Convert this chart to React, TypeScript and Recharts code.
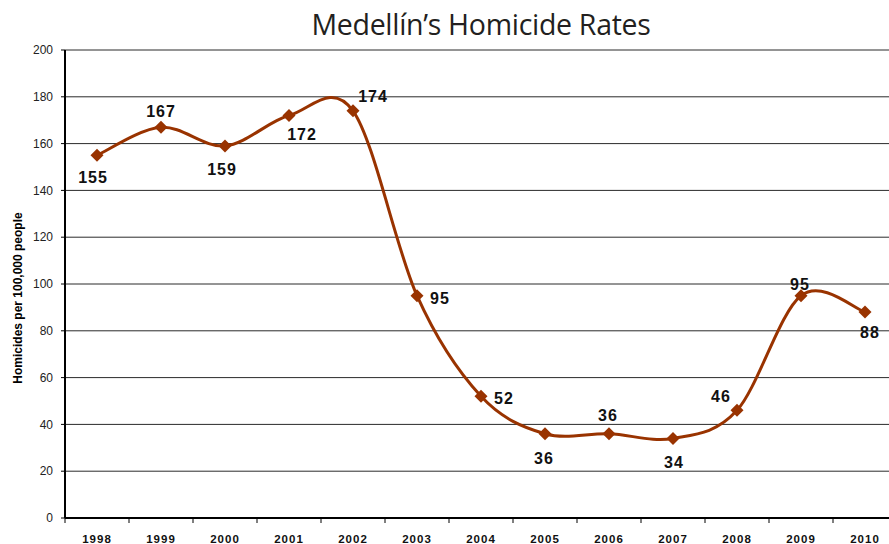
import React from "react";
import { LineChart, Line, XAxis, YAxis, CartesianGrid, LabelList, Label } from "recharts";

// Medellín homicide rate per 100,000 people
const years = ["1998", "1999", "2000", "2001", "2002", "2003", "2004", "2005", "2006", "2007", "2008", "2009", "2010"];
const rates = [155, 167, 159, 172, 174, 95, 52, 36, 36, 34, 46, 95, 88];
const yTicks = [0, 20, 40, 60, 80, 100, 120, 140, 160, 180, 200];

// where each value label sits relative to its point (dx, dy of label centre)
const labelOffsets: [number, number][] = [
  [-4, 22], [0, -16], [-3, 23], [13, 18], [20, -15], [23, 2], [23, 2],
  [-1, 24], [-1, -19], [1, 24], [-16, -14], [-1, -12], [5, 20],
];

const data = years.map((year, i) => ({ year, rate: rates[i] }));

const CHART_W = 900;
const CHART_H = 544;
const MARGIN = { top: 50, right: 3, bottom: 0, left: 0 };
const Y_AXIS_W = 65;
const HALF_BAND = (CHART_W - MARGIN.left - MARGIN.right - Y_AXIS_W) / years.length / 2;

const LINE_COLOR = "#993300";
const FONT = "'Liberation Sans', Arial, sans-serif";

// excel-style smoothing (catmull-rom through every point)
const smoothCurve = (context: any) => {
  let pts: [number, number][] = [];
  return {
    areaStart() {},
    areaEnd() {},
    lineStart() {
      pts = [];
    },
    point(x: number, y: number) {
      pts.push([+x, +y]);
    },
    lineEnd() {
      const n = pts.length;
      if (!n) return;
      context.moveTo(pts[0][0], pts[0][1]);
      for (let i = 0; i < n - 1; i++) {
        const p0 = pts[Math.max(i - 1, 0)];
        const p1 = pts[i];
        const p2 = pts[i + 1];
        const p3 = pts[Math.min(i + 2, n - 1)];
        context.bezierCurveTo(
          p1[0] + (p2[0] - p0[0]) / 6,
          p1[1] + (p2[1] - p0[1]) / 6,
          p2[0] - (p3[0] - p1[0]) / 6,
          p2[1] - (p3[1] - p1[1]) / 6,
          p2[0],
          p2[1]
        );
      }
    },
  };
};

const Diamond = (props: any) => {
  const { cx, cy } = props;
  if (cx == null || cy == null) return <g />;
  const s = 6.5;
  return (
    <polygon
      points={`${cx},${cy - s} ${cx + s},${cy} ${cx},${cy + s} ${cx - s},${cy}`}
      fill={LINE_COLOR}
    />
  );
};

const ValueLabel = (props: any) => {
  const { x, y, value, index } = props;
  const [dx, dy] = labelOffsets[index] || [0, -15];
  return (
    <text
      x={x + dx}
      y={y + dy + 6}
      textAnchor="middle"
      fill="#111"
      fontFamily={FONT}
      fontWeight="bold"
      fontSize={16}
      letterSpacing={1}
    >
      {value}
    </text>
  );
};

const YearTick = (props: any) => {
  const { x, y, payload, index } = props;
  const last = index === years.length - 1;
  return (
    <g>
      <line x1={x - HALF_BAND} x2={x - HALF_BAND} y1={y} y2={y + 5} stroke="#000" strokeWidth={1} />
      {last && <line x1={x + HALF_BAND} x2={x + HALF_BAND} y1={y} y2={y + 5} stroke="#000" strokeWidth={1} />}
      <text
        x={x}
        y={y + 25}
        textAnchor="middle"
        fill="#111"
        fontFamily={FONT}
        fontWeight="bold"
        fontSize={11.5}
        letterSpacing={1}
      >
        {payload.value}
      </text>
    </g>
  );
};

const App: React.FC = () => {
  return (
    <div
      style={{
        position: "fixed",
        top: 0,
        left: 0,
        width: 889,
        height: 544,
        overflow: "hidden",
        background: "#fff",
      }}
    >
      <div
        style={{
          position: "absolute",
          top: 10,
          left: 65,
          width: 832,
          textAlign: "center",
          fontFamily: "'Open Sans', sans-serif",
          fontSize: 28.5,
          lineHeight: "28px",
          letterSpacing: -0.3,
          color: "#231f20",
        }}
      >
        Medellín’s Homicide Rates
      </div>
      <LineChart width={CHART_W} height={CHART_H} data={data} margin={MARGIN}>
        <CartesianGrid vertical={false} stroke="#2a2a2a" strokeWidth={1} />
        <XAxis
          dataKey="year"
          type="category"
          height={26}
          padding={{ left: HALF_BAND, right: HALF_BAND }}
          axisLine={{ stroke: "#000", strokeWidth: 2 }}
          tickLine={false}
          tickSize={0}
          tickMargin={0}
          interval={0}
          tick={<YearTick />}
        />
        <YAxis
          width={Y_AXIS_W}
          domain={[0, 200]}
          ticks={yTicks}
          interval={0}
          axisLine={{ stroke: "#000", strokeWidth: 2 }}
          tickLine={{ stroke: "#000" }}
          tickSize={4}
          tickMargin={8}
          tick={{ fill: "#222", fontSize: 12, fontFamily: FONT }}
        >
          <Label
            content={() => (
              <text
                transform="translate(22,298) rotate(-90)"
                textAnchor="middle"
                fill="#000"
                fontFamily={FONT}
                fontWeight="bold"
                fontSize={12}
              >
                Homicides per 100,000 people
              </text>
            )}
          />
        </YAxis>
        <Line
          dataKey="rate"
          type={smoothCurve as any}
          stroke={LINE_COLOR}
          strokeWidth={3}
          dot={(p: any) => <Diamond key={`d-${p.index}`} {...p} />}
          activeDot={false}
          isAnimationActive={false}
        >
          <LabelList dataKey="rate" content={<ValueLabel />} />
        </Line>
      </LineChart>
    </div>
  );
};

export default App;
